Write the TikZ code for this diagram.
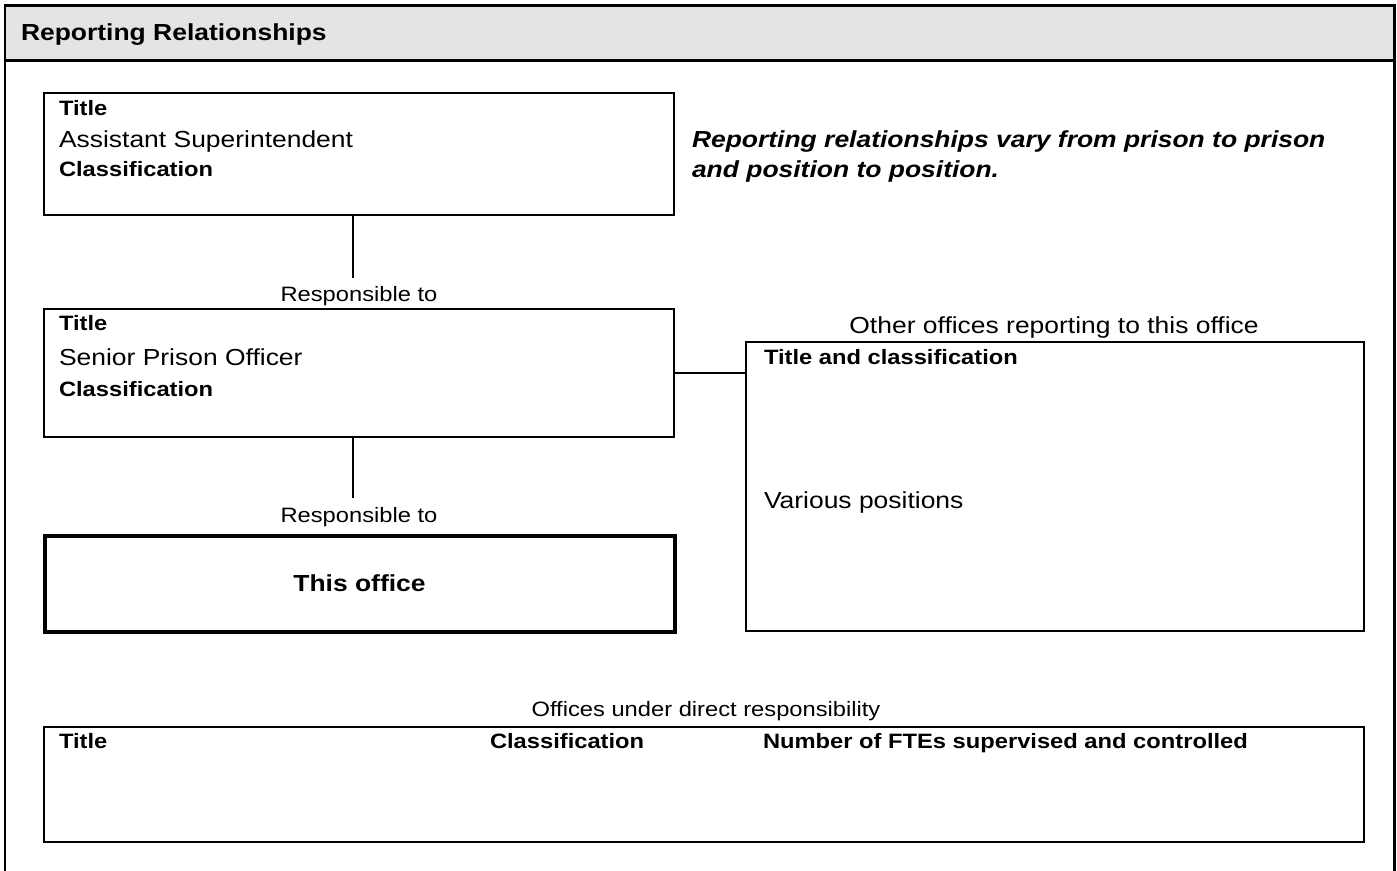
\documentclass[tikz,border=0pt]{standalone}
\usepackage{fontspec}
\setmainfont{Liberation Sans}[FakeStretch=1.14]
\usepackage{tikz}
\usetikzlibrary{calc,positioning}
\newcommand{\bigtxt}{\fontsize{11.6}{14}\selectfont}
\newcommand{\smalltxt}{\fontsize{10.4}{12.5}\selectfont}
\definecolor{headgray}{RGB}{228,228,228}
\tikzset{
   office/.style={draw, line width=1pt, rectangle, anchor=north west, inner sep=0pt, outer sep=0pt},
   thisoffice/.style={office, line width=2pt, font=\bigtxt\bfseries},
   lbl/.style={inner sep=0pt, anchor=base west},
   relto/.style={inner xsep=0pt, inner ysep=4pt, anchor=base, font=\smalltxt}
}
\begin{document}
\begin{tikzpicture}[x=0.5pt,y=-0.5pt,line width=1pt]
\useasboundingbox (0,0) rectangle (1397,871);
% frame and heading
\fill[headgray] (5,5.5) rectangle (1394.5,60.7);
\draw[line width=1.3pt] (5,871) -- (5,5.5) -- (1394.5,5.5) -- (1394.5,871);
\draw[line width=1.3pt] (5,60.7) -- (1394.5,60.7);
\node[lbl,font=\bigtxt\bfseries] (head) at (20,41) {Reporting Relationships};
%
\node[office,minimum width=315pt,minimum height=61pt] (asst) at (44,93) {};
\node[lbl,font=\smalltxt\bfseries] (asst-t) at (58,116) {Title};
\node[lbl,font=\bigtxt]            (asst-n) at (58,148) {Assistant Superintendent};
\node[lbl,font=\smalltxt\bfseries] (asst-c) at (58,177) {Classification};
%
\node[lbl,font=\bigtxt\bfseries\itshape] (note1) at (691,148) {Reporting relationships vary from prison to prison};
\node[lbl,font=\bigtxt\bfseries\itshape] (note2) at (691,178) {and position to position.};
%
\node[relto] (resp1) at (359,302) {Responsible to};
\node[office,minimum width=315pt,minimum height=64pt] (sen) at (44,309) {};
\node[lbl,font=\smalltxt\bfseries] (sen-t) at (58,331) {Title};
\node[lbl,font=\bigtxt]            (sen-n) at (58,366) {Senior Prison Officer};
\node[lbl,font=\smalltxt\bfseries] (sen-c) at (58,397) {Classification};
%
\node[relto] (resp2) at (359,522) {Responsible to};
\node[thisoffice,minimum width=315pt,minimum height=48pt] (this) at (44.5,535.5) {This office};
%
\node[lbl,font=\bigtxt,anchor=base] (other-h) at (1054,334) {Other offices reporting to this office};
\node[office,minimum width=309pt,minimum height=144.5pt] (other) at (746,342) {};
\node[lbl,font=\smalltxt\bfseries] (other-t) at (763,365) {Title and classification};
\node[lbl,font=\bigtxt]            (other-v) at (763,509) {Various positions};
%
\node[lbl,font=\smalltxt,anchor=base] (under-h) at (706,716) {Offices under direct responsibility};
\node[office,minimum width=660pt,minimum height=57.5pt] (under) at (44,727) {};
\node[lbl,font=\smalltxt\bfseries] (under-t) at (58,748)  {Title};
\node[lbl,font=\smalltxt\bfseries] (under-c) at (489,748) {Classification};
\node[lbl,font=\smalltxt\bfseries] (under-f) at (762,748) {Number of FTEs supervised and controlled};
%
\draw ([xshift=-3pt]asst.south) -- ([xshift=-3pt]resp1.north);
\draw ([xshift=-3pt]sen.south) -- ([xshift=-3pt]resp2.north);
\draw (sen.east) -- (sen.east -| other.west);
\end{tikzpicture}
\end{document}
